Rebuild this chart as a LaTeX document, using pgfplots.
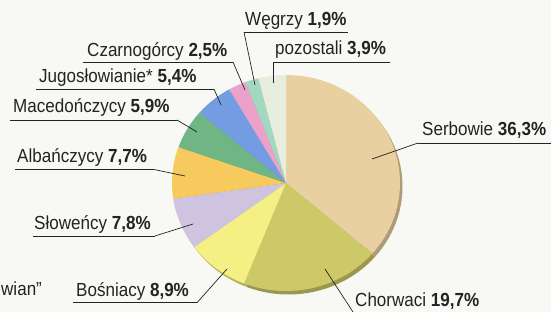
\documentclass[border=0pt]{standalone}
\usepackage{pgfplots}
\usepackage{pgfplotstable}
\pgfplotsset{compat=1.18}
\usepackage{fontspec}
\setmainfont{Liberation Sans}[FakeStretch=0.9]

\definecolor{bgcol}{RGB}{248,249,245}
\definecolor{txt}{RGB}{35,35,35}
\definecolor{cSer}{RGB}{232,208,160}
\definecolor{cCho}{RGB}{206,201,104}
\definecolor{cBos}{RGB}{245,240,132}
\definecolor{cSlo}{RGB}{206,196,224}
\definecolor{cAlb}{RGB}{246,202,92}
\definecolor{cMac}{RGB}{112,182,132}
\definecolor{cJug}{RGB}{116,156,226}
\definecolor{cCza}{RGB}{236,162,200}
\definecolor{cWeg}{RGB}{162,216,192}
\definecolor{cPoz}{RGB}{232,238,222}

\pgfplotstableread[col sep=comma]{
name,value,col
Serbowie,36.3,cSer
Chorwaci,19.7,cCho
Bosniacy,8.9,cBos
Slowency,7.8,cSlo
Albanczycy,7.7,cAlb
Macedonczycy,5.9,cMac
Jugoslowianie,5.4,cJug
Czarnogorcy,2.5,cCza
Wegrzy,1.9,cWeg
pozostali,3.9,cPoz
}\pietable

\newcommand\pieslices[4]{% #1 cx, #2 cy, #3 color mix, #4 shade
  \gdef\cum{0}%
  \pgfplotsinvokeforeach{0,...,9}{%
    \pgfplotstablegetelem{##1}{value}\of\pietable \let\val\pgfplotsretval
    \pgfplotstablegetelem{##1}{col}\of\pietable \let\col\pgfplotsretval
    \pgfmathsetmacro\sa{90-3.6*\cum}%
    \pgfmathsetmacro\sb{90-3.6*(\cum+\val)}%
    \pgfmathsetmacro\newcum{\cum+\val}%
    \global\let\cum\newcum
    \edef\tmp{\noexpand\fill[\col!#3!#4] (axis cs:#1,#2) -- ++(\sa:114bp and 108bp) arc[start angle=\sa, end angle=\sb, x radius=114bp, y radius=108bp] -- cycle;}%
    \tmp
  }%
}

\begin{document}
\begin{tikzpicture}
\useasboundingbox (0,0) rectangle (551bp,312bp);
\clip (0,0) rectangle (551bp,312bp);
\fill[bgcol] (0,0) rectangle (551bp,312bp);
\begin{axis}[
  at={(0,0)}, anchor=south west,
  width=551bp, height=312bp, scale only axis,
  xmin=0, xmax=551, ymin=0, ymax=312,
  hide axis, clip=false,
]
\pieslices{288.5}{125.5}{75}{black}
\pieslices{286}{129}{100}{white}

\tikzset{lab/.style={anchor=base west, inner sep=0pt, text=txt, font=\fontsize{19}{22}\selectfont},
         ul/.style={draw=txt, line width=0.9bp},
         ld/.style={draw=txt, line width=0.7bp}}

% Wegrzy
\node[lab] at (axis cs:245,286) {Węgrzy \textbf{1,9\%}};
\draw[ul] (axis cs:244,280) -- (axis cs:348,280);
\draw[ld] (axis cs:244,280) -- (axis cs:255,227);
% pozostali
\node[lab] at (axis cs:275,257) {pozostali \textbf{3,9\%}};
\draw[ul] (axis cs:273,250) -- (axis cs:390,250);
\draw[ld] (axis cs:273,250) -- (axis cs:273,229);
% Czarnogorcy
\node[lab] at (axis cs:87,255) {Czarnogórcy \textbf{2,5\%}};
\draw[ul] (axis cs:83,250) -- (axis cs:233,250);
\draw[ld] (axis cs:233,250) -- (axis cs:245,222);
% Jugoslowianie
\node[lab] at (axis cs:39,229) {Jugosłowianie* \textbf{5,4\%}};
\draw[ul] (axis cs:36,223) -- (axis cs:214,223);
\draw[ld] (axis cs:214,223) -- (axis cs:221,207);
% Macedonczycy
\node[lab] at (axis cs:13,199) {Macedończycy \textbf{5,9\%}};
\draw[ul] (axis cs:10,192) -- (axis cs:177,192);
\draw[ld] (axis cs:177,192) -- (axis cs:197,180);
% Albanczycy
\node[lab] at (axis cs:17,149) {Albańczycy \textbf{7,7\%}};
\draw[ul] (axis cs:15,142.7) -- (axis cs:153,142.7);
\draw[ld] (axis cs:153,142.7) -- (axis cs:185,136);
% Slowency
\node[lab] at (axis cs:34,82) {Słoweńcy \textbf{7,8\%}};
\draw[ul] (axis cs:33,76) -- (axis cs:155,76);
\draw[ld] (axis cs:155,76) -- (axis cs:193,88);
% Bosniacy
\node[lab] at (axis cs:76,16) {Bośniacy \textbf{8,9\%}};
\draw[ul] (axis cs:73,9.3) -- (axis cs:197,9.3);
\draw[ld] (axis cs:197,9.3) -- (axis cs:227,43);
% Chorwaci
\node[lab] at (axis cs:355,6) {Chorwaci \textbf{19,7\%}};
\draw[ld] (axis cs:325,43) -- (axis cs:353,0);
% Serbowie
\node[lab] at (axis cs:422,176.3) {Serbowie \textbf{36,3\%}};
\draw[ul] (axis cs:418,169) -- (axis cs:551,169);
\draw[ld] (axis cs:418,169) -- (axis cs:372,153);
% footnote fragment (visible part only)
\node[lab] at (axis cs:1,17) {wian”};
\end{axis}
\end{tikzpicture}
\end{document}
